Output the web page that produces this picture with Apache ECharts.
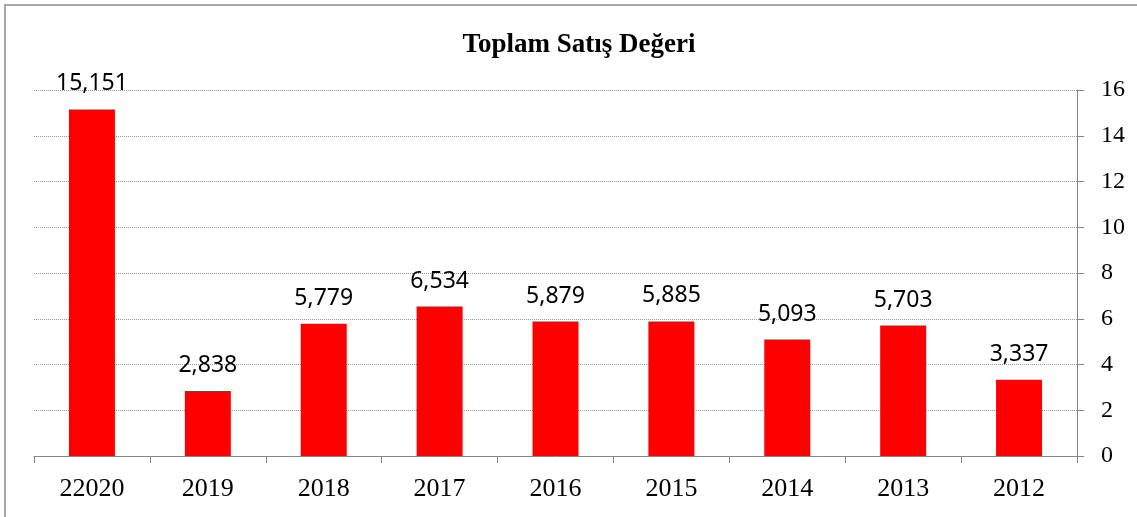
<!DOCTYPE html>
<html>
<head>
<meta charset="utf-8">
<script src="https://cdn.jsdelivr.net/npm/echarts@6/dist/echarts.min.js"></script>
<style>
  html, body { margin: 0; padding: 0; background: #fff; overflow: hidden; }
  #chart { position: absolute; left: 0; top: 0; width: 1137px; height: 517px; }
  #frame {
    position: absolute; left: 4px; top: 4px; width: 1200px; height: 600px;
    border-left: 2px solid #a6a6a6; border-top: 2px solid #a6a6a6;
    pointer-events: none;
  }
</style>
</head>
<body>
<div id="chart"></div>
<div id="frame"></div>
<script>
// Toplam satış değeri (yıllara göre)
const years = ['22020', '2019', '2018', '2017', '2016', '2015', '2014', '2013', '2012'];
const values = [15.151, 2.838, 5.779, 6.534, 5.879, 5.885, 5.093, 5.703, 3.337];

const chart = echarts.init(document.getElementById('chart'));

const option = {
  backgroundColor: '#fff',
  animation: false,
  title: {
    text: 'Toplam Satış Değeri',
    left: 574,
    textAlign: 'center',
    top: 27,
    textStyle: {
      fontFamily: 'Liberation Serif',
      fontWeight: 'bold',
      fontSize: 27,
      color: '#000',
    },
  },
  grid: {
    left: 34,
    right: 60,
    top: 90,
    bottom: 61,
  },
  xAxis: {
    type: 'category',
    data: years,
    axisLine: { lineStyle: { color: '#868686', width: 1 } },
    axisTick: { show: true, length: 7, lineStyle: { color: '#868686' } },
    axisLabel: {
      fontFamily: 'Liberation Serif',
      fontSize: 26,
      color: '#000',
      margin: 20,
    },
  },
  yAxis: {
    type: 'value',
    position: 'right',
    min: 0,
    max: 16,
    interval: 2,
    axisLine: { show: true, lineStyle: { color: '#868686', width: 1 } },
    axisTick: { show: true, length: 7, lineStyle: { color: '#868686' } },
    axisLabel: {
      fontFamily: 'Liberation Serif',
      fontSize: 24,
      color: '#000',
      margin: 24,
    },
    splitLine: {
      lineStyle: { color: '#9a9a9a', type: [1, 1], width: 1 },
    },
  },
  series: [
    {
      type: 'bar',
      data: values,
      barWidth: 46,
      itemStyle: { color: '#ff0000' },
      label: {
        show: true,
        position: 'top',
        distance: 14,
        fontFamily: 'Noto Sans',
        fontSize: 23,
        color: '#000',
        formatter: (p) => p.value.toFixed(3).replace('.', ','),
      },
    },
  ],
};

chart.setOption(option);
</script>
</body>
</html>
